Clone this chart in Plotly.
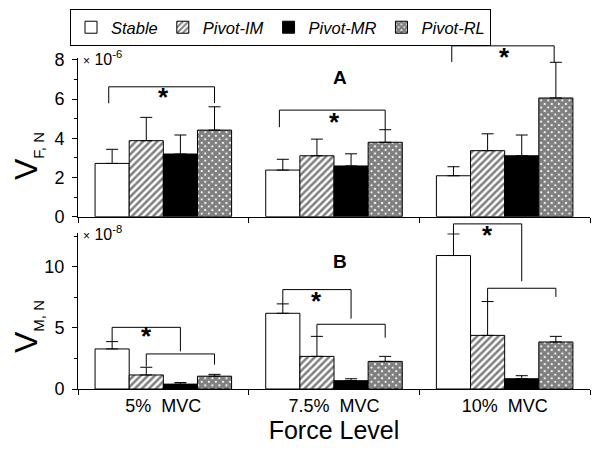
import plotly.graph_objects as go

# ---------------- data ----------------
categories = ["5%\u00a0 MVC", "7.5%\u00a0 MVC", "10%\u00a0 MVC"]
series = ["Stable", "Pivot-IM", "Pivot-MR", "Pivot-RL"]

# Panel A : V_F,N  (x 10^-6)
vf_stable = [2.72, 2.38, 2.09]
vf_stable_err = [0.72, 0.55, 0.46]
vf_im = [3.88, 3.11, 3.37]
vf_im_err = [1.19, 0.85, 0.86]
vf_mr = [3.20, 2.59, 3.11]
vf_mr_err = [0.97, 0.62, 1.06]
vf_rl = [4.42, 3.80, 6.06]
vf_rl_err = [1.19, 0.64, 1.82]

# Panel B : V_M,N  (x 10^-8)
vm_stable = [3.28, 6.20, 10.93]
vm_stable_err = [0.60, 0.77, 1.77]
vm_im = [1.15, 2.67, 4.39]
vm_im_err = [0.63, 1.64, 2.77]
vm_mr = [0.40, 0.68, 0.84]
vm_mr_err = [0.13, 0.16, 0.25]
vm_rl = [1.05, 2.26, 3.85]
vm_rl_err = [0.15, 0.41, 0.46]

# significance brackets (category index, left/right offset, top, left/right leg ends)
br_a_cat = [0, 1, 2]
br_a_x0 = [-0.32, -0.32, -0.31]
br_a_x1 = [0.30, 0.30, 0.29]
br_a_top = [6.63, 5.44, 8.72]
br_a_y0 = [5.79, 4.57, 7.90]
br_a_y1 = [5.80, 4.44, 7.88]
star_a_x = [0.0, 0.0, 0.0]
star_a_y = [6.12, 4.85, 8.16]

br_b_cat = [0, 0, 1, 1, 2, 2]
br_b_x0 = [-0.30, -0.10, -0.30, -0.10, -0.30, -0.10]
br_b_x1 = [0.10, 0.30, 0.10, 0.30, 0.10, 0.30]
br_b_top = [5.05, 2.87, 8.14, 5.30, 13.52, 8.25]
br_b_y0 = [3.90, 1.85, 6.97, 4.31, 12.70, 7.16]
br_b_y1 = [3.08, 2.00, 5.76, 4.20, 8.82, 7.54]
star_b_x = [-0.10, -0.10, -0.10]
star_b_y = [4.31, 7.18, 12.65]

# ---------------- layout constants ----------------
OFF = 8                     # page body margin of the html page
W, H = 600 - OFF, 454 - OFF
ML, MR, MT, MB = 78 - OFF, 10, 40 - OFF, 65
PW = W - ML - MR
PH = H - MT - MB
BOT = MT + PH


def py(y_page):
    return (BOT - (y_page - OFF)) / PH


def px(x_page):
    return (x_page - OFF - ML) / PW


A_dom = [py(216.7), py(58)]
B_dom = [0.0, py(233.3)]
A_rng = 8.1
B_rng = 12.75
A_ext_dom = [A_dom[0], 1.0]
A_ext_rng = A_rng * (A_ext_dom[1] - A_ext_dom[0]) / (A_dom[1] - A_dom[0])
B_ext_dom = [0.0, A_dom[0]]
B_ext_rng = B_rng * (B_ext_dom[1] - B_ext_dom[0]) / (B_dom[1] - B_dom[0])

FONT = "Arial, Liberation Sans, sans-serif"

styles = {
    "Stable": dict(color="white"),
    "Pivot-IM": dict(color="white", pattern=dict(shape="/", fgcolor="black", bgcolor="white", size=5, solidity=0.5)),
    "Pivot-MR": dict(color="black"),
    "Pivot-RL": dict(color="white", pattern=dict(shape="x", fgcolor="black", bgcolor="white", size=5, solidity=0.85)),
}

fig = go.Figure()

panelA = [(vf_stable, vf_stable_err), (vf_im, vf_im_err), (vf_mr, vf_mr_err), (vf_rl, vf_rl_err)]
panelB = [(vm_stable, vm_stable_err), (vm_im, vm_im_err), (vm_mr, vm_mr_err), (vm_rl, vm_rl_err)]

for i, name in enumerate(series):
    for (vals, errs), xa, ya, show in [(panelA[i], "x", "y", True), (panelB[i], "x2", "y2", False)]:
        fig.add_trace(go.Bar(
            x=categories, y=vals, name=name, legendgroup=name, showlegend=show,
            xaxis=xa, yaxis=ya, offsetgroup=str(i),
            marker=dict(line=dict(color="black", width=1), **styles[name]),
            error_y=dict(type="data", symmetric=False, array=errs, arrayminus=[0] * len(errs),
                         color="black", thickness=1, width=6),
        ))

shapes = []


def add_brackets(cats, x0s, x1s, tops, y0s, y1s, xref, yref):
    ln = dict(color="black", width=1)
    for c, a, b, t, l0, l1 in zip(cats, x0s, x1s, tops, y0s, y1s):
        shapes.append(dict(type="line", xref=xref, yref=yref, x0=c + a, x1=c + a, y0=l0, y1=t, line=ln))
        shapes.append(dict(type="line", xref=xref, yref=yref, x0=c + a, x1=c + b, y0=t, y1=t, line=ln))
        shapes.append(dict(type="line", xref=xref, yref=yref, x0=c + b, x1=c + b, y0=t, y1=l1, line=ln))


add_brackets(br_a_cat, br_a_x0, br_a_x1, br_a_top, br_a_y0, br_a_y1, "x", "y3")
add_brackets(br_b_cat, br_b_x0, br_b_x1, br_b_top, br_b_y0, br_b_y1, "x2", "y4")

annotations = []
star_font = dict(size=26, family=FONT, color="black")
for k in range(3):
    annotations.append(dict(text="<b>*</b>", xref="x", yref="y3", x=k + star_a_x[k], y=star_a_y[k],
                            showarrow=False, font=star_font, xanchor="center", yanchor="middle"))
    annotations.append(dict(text="<b>*</b>", xref="x2", yref="y4", x=k + star_b_x[k], y=star_b_y[k],
                            showarrow=False, font=star_font, xanchor="center", yanchor="middle"))

# panel labels, multipliers, axis titles
annotations += [
    dict(text="<b>A</b>", xref="x domain", yref="y domain", x=0.512, y=0.956, showarrow=False,
         font=dict(size=19, family=FONT, color="black")),
    dict(text="<b>B</b>", xref="x2 domain", yref="y2 domain", x=0.512, y=0.899, showarrow=False,
         font=dict(size=19, family=FONT, color="black")),
    dict(text="<span style='font-size:12px'>×</span> 10<sup>-6</sup>", xref="x domain", yref="y domain",
         x=0, y=1, xshift=3, xanchor="left", yanchor="middle", showarrow=False,
         font=dict(size=16, family=FONT, color="black")),
    dict(text="<span style='font-size:12px'>×</span> 10<sup>-8</sup>", xref="x2 domain", yref="y2 domain",
         x=0, y=1, xshift=3, xanchor="left", yanchor="middle", showarrow=False,
         font=dict(size=16, family=FONT, color="black")),
    dict(text="V<sub><span style='font-size:15px'>F, N</span></sub>", xref="paper", yref="paper",
         x=px(27), y=py(156), textangle=-90, showarrow=False,
         xanchor="center", yanchor="middle", font=dict(size=32, family=FONT, color="black")),
    dict(text="V<sub><span style='font-size:15px'>M, N</span></sub>", xref="paper", yref="paper",
         x=px(27), y=py(327), textangle=-90, showarrow=False,
         xanchor="center", yanchor="middle", font=dict(size=32, family=FONT, color="black")),
]

xcommon = dict(type="category", categoryarray=categories, range=[-0.5, 2.5], showline=True,
               linecolor="black", linewidth=1, ticks="outside", tickson="boundaries", ticklen=5,
               tickcolor="black", showgrid=False, zeroline=False, automargin=False,
               tickfont=dict(size=18, family=FONT, color="black"))
xover = dict(type="linear", range=[-0.5, 2.5], tickvals=[0.5, 1.5, 2.5], ticks="inside", ticklen=5,
             tickcolor="black", showticklabels=False, showline=False, showgrid=False, zeroline=False,
             automargin=False)
ycommon = dict(showline=True, linecolor="black", linewidth=1, ticks="outside", ticklen=5,
               tickcolor="black", showgrid=False, zeroline=False, automargin=False,
               ticklabelstandoff=4, tickfont=dict(size=18, family=FONT, color="black"))
yhidden = dict(showline=False, showticklabels=False, ticks="", showgrid=False, zeroline=False,
               automargin=False)

fig.update_layout(
    width=W, height=H,
    margin=dict(l=ML, r=MR, t=MT, b=MB, autoexpand=False),
    paper_bgcolor="white", plot_bgcolor="rgba(0,0,0,0)",
    barmode="group", bargap=0.2, bargroupgap=0,
    font=dict(family=FONT, color="black"),
    xaxis=dict(anchor="y", domain=[0, 1], showticklabels=False, **xcommon),
    xaxis2=dict(anchor="y2", domain=[0, 1], showticklabels=True,
                title=dict(text="Force Level", font=dict(size=25, family=FONT, color="black"), standoff=6),
                **xcommon),
    xaxis3=dict(overlaying="x", anchor="y", **xover),
    xaxis4=dict(overlaying="x2", anchor="y2", **xover),
    yaxis=dict(anchor="x", domain=A_dom, range=[0, A_rng], tickvals=[0, 2, 4, 6, 8],
               minor=dict(tickvals=[1, 3, 5, 7], ticks="outside", ticklen=3, tickcolor="black"), **ycommon),
    yaxis2=dict(anchor="x2", domain=B_dom, range=[0, B_rng], tickvals=[0, 5, 10],
                minor=dict(tickvals=[2.5, 7.5, 12.5], ticks="outside", ticklen=3, tickcolor="black"), **ycommon),
    yaxis3=dict(anchor="x", domain=A_ext_dom, range=[0, A_ext_rng], **yhidden),
    yaxis4=dict(anchor="x2", domain=B_ext_dom, range=[0, B_ext_rng], **yhidden),
    legend=dict(orientation="h", x=px(70), y=py(9),
                xanchor="left", yanchor="top", bordercolor="black", borderwidth=1,
                font=dict(size=16.5, family=FONT, color="black", style="italic"),
                traceorder="normal", bgcolor="white"),
    shapes=shapes,
    annotations=annotations,
)

fig.write_html("out.html")
